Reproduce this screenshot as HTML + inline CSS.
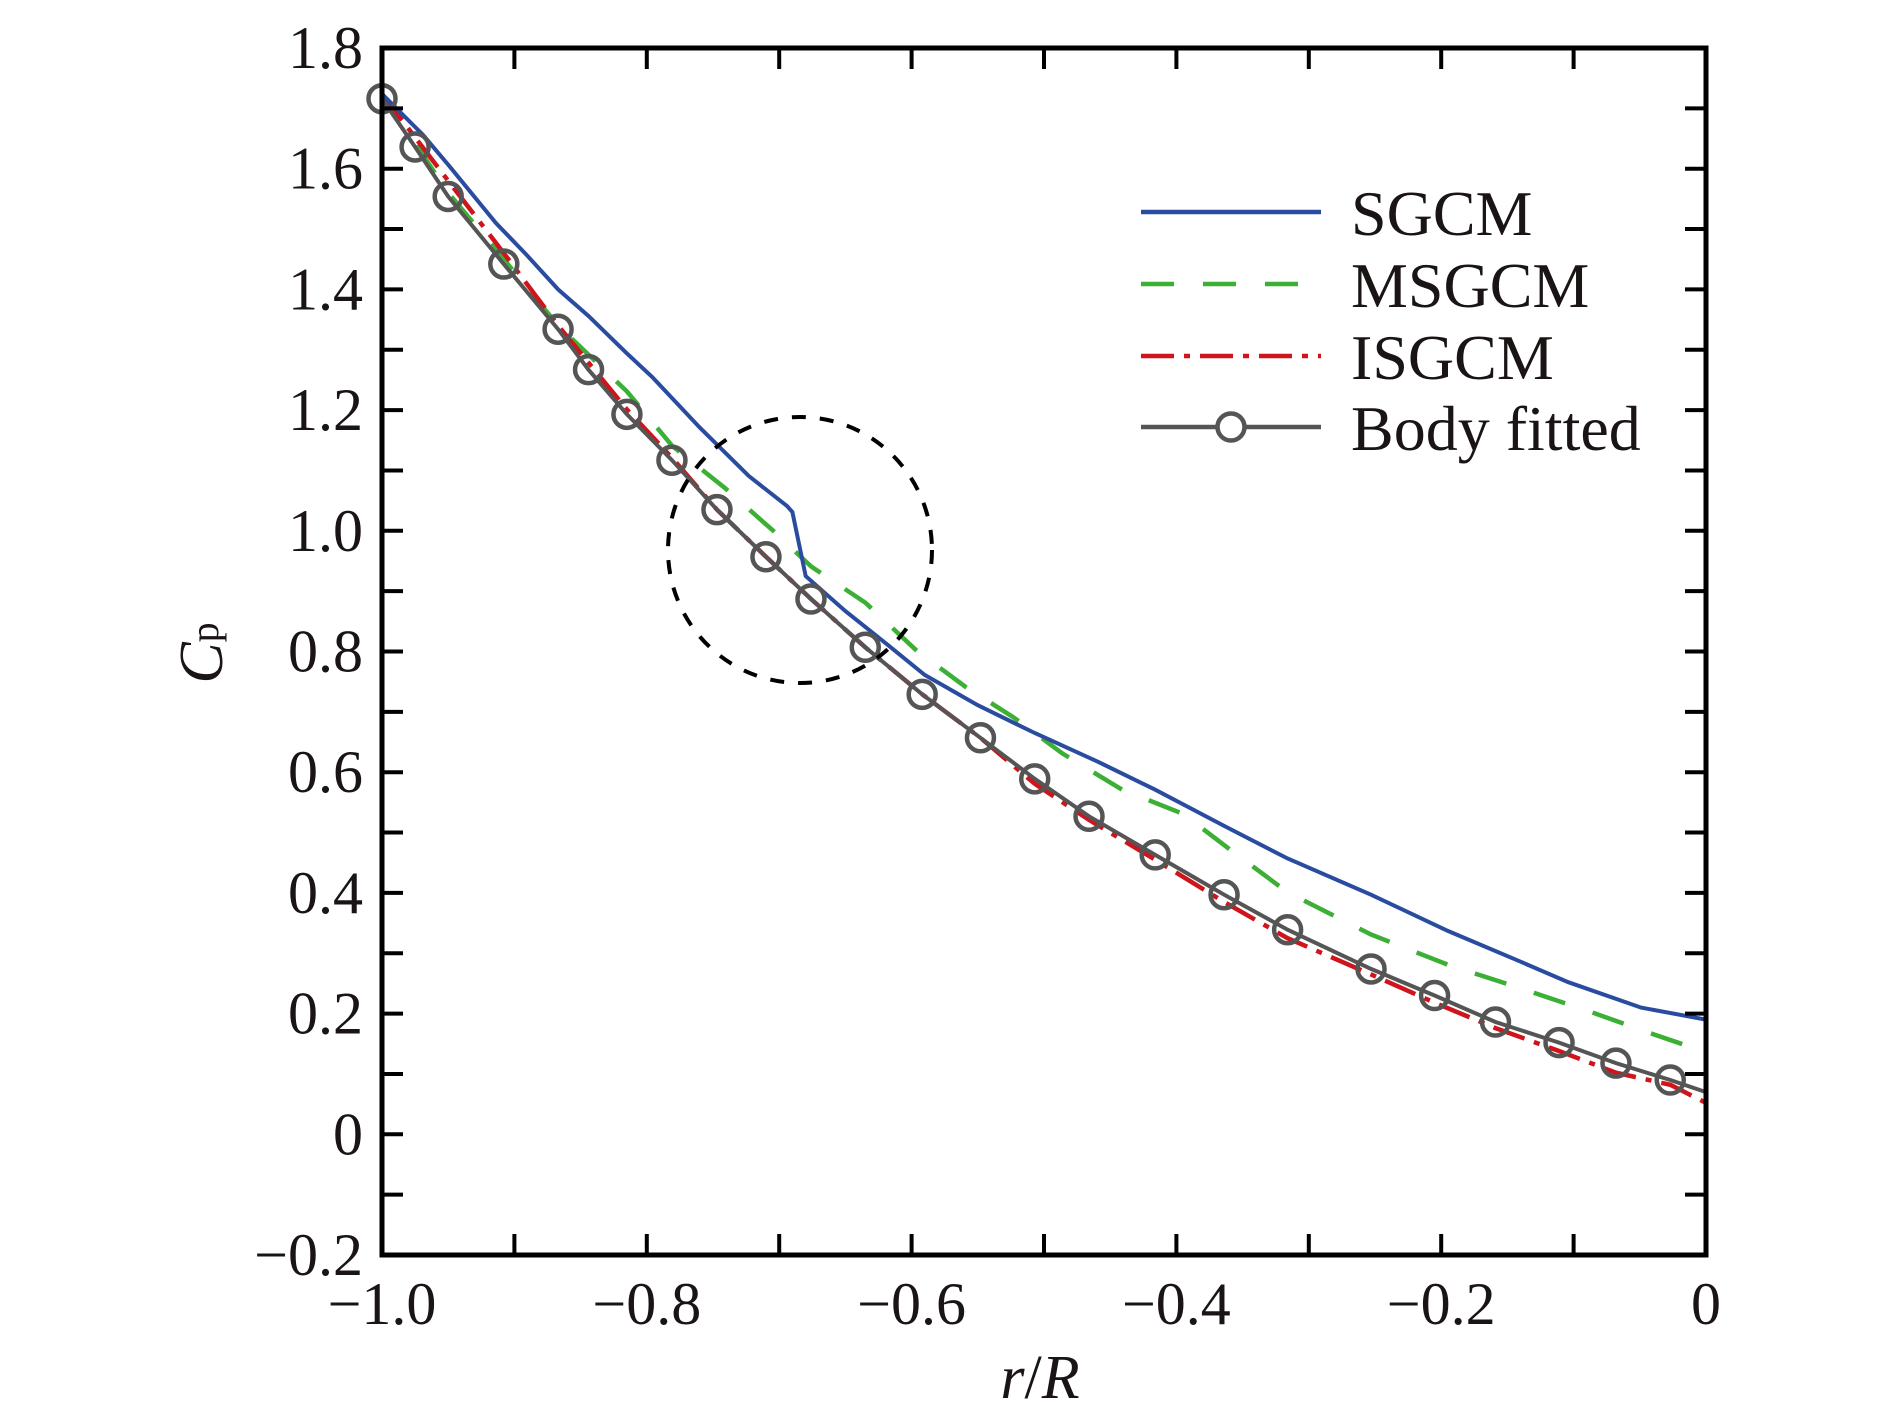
<!DOCTYPE html>
<html><head><meta charset="utf-8"><style>
html,body{margin:0;padding:0;background:#fff;}
svg{display:block;}
text{font-family:"Liberation Serif",serif;fill:#1a1414;}
</style></head><body>
<svg id="chart" width="1890" height="1418" viewBox="0 0 1890 1418" xmlns="http://www.w3.org/2000/svg">
<g id="marks"></g>
<g id="axes"></g>
<g id="legend"></g>
</svg>
<script>
const bodyX=[-1.0,-0.975,-0.950,-0.908,-0.867,-0.844,-0.815,-0.781,-0.747,-0.710,-0.676,-0.635,-0.592,-0.548,-0.507,-0.466,-0.416,-0.364,-0.316,-0.253,-0.205,-0.159,-0.111,-0.068,-0.027,0];
const bodyY=[1.716,1.636,1.554,1.442,1.334,1.267,1.193,1.117,1.035,0.957,0.887,0.807,0.729,0.657,0.589,0.527,0.463,0.397,0.339,0.274,0.230,0.186,0.152,0.118,0.090,0.070];
const bodyMarkerCount=25;
const sgcmX=[-1,-0.969,-0.949,-0.914,-0.892,-0.867,-0.844,-0.815,-0.796,-0.760,-0.723,-0.694,-0.690,-0.680,-0.650,-0.618,-0.590,-0.550,-0.507,-0.459,-0.416,-0.364,-0.316,-0.253,-0.195,-0.140,-0.104,-0.049,0];
const sgcmY=[1.724,1.656,1.604,1.510,1.460,1.400,1.356,1.294,1.255,1.171,1.091,1.041,1.031,0.925,0.867,0.811,0.761,0.711,0.665,0.617,0.571,0.511,0.457,0.397,0.337,0.286,0.252,0.210,0.190];
const msgcmX=[-1,-0.950,-0.908,-0.867,-0.815,-0.781,-0.741,-0.705,-0.676,-0.635,-0.596,-0.559,-0.523,-0.486,-0.441,-0.395,-0.359,-0.316,-0.253,-0.195,-0.140,-0.086,-0.040,0];
const msgcmY=[1.724,1.560,1.450,1.340,1.231,1.141,1.071,1.001,0.941,0.881,0.801,0.741,0.691,0.631,0.571,0.531,0.471,0.401,0.331,0.281,0.242,0.202,0.166,0.136];
const isgcmX=[-1,-0.950,-0.908,-0.867,-0.815,-0.781,-0.747,-0.710,-0.676,-0.635,-0.592,-0.548,-0.507,-0.466,-0.416,-0.364,-0.316,-0.253,-0.205,-0.159,-0.111,-0.068,-0.027,0];
const isgcmY=[1.724,1.580,1.460,1.340,1.201,1.121,1.035,0.957,0.887,0.807,0.729,0.657,0.581,0.521,0.455,0.385,0.325,0.265,0.218,0.176,0.138,0.102,0.082,0.052];
const xTicks=[-1.0,-0.8,-0.6,-0.4,-0.2,0];
const xTickLabels=["\u22121.0","\u22120.8","\u22120.6","\u22120.4","\u22120.2","0"];
const yTicks=[-0.2,0,0.2,0.4,0.6,0.8,1.0,1.2,1.4,1.6,1.8];
const yTickLabels=["\u22120.2","0","0.2","0.4","0.6","0.8","1.0","1.2","1.4","1.6","1.8"];

const L=382,R=1706,T=48,B=1255;
const X0=-1,X1=0,Y0=-0.2,Y1=1.8;
function sx(v){return L+(v-X0)/(X1-X0)*(R-L);}
function sy(v){return B-(v-Y0)/(Y1-Y0)*(B-T);}
const NS="http://www.w3.org/2000/svg";
function mk(tag,attrs,parent){const e=document.createElementNS(NS,tag);for(const k in attrs)e.setAttribute(k,attrs[k]);parent.appendChild(e);return e;}
const marks=document.getElementById('marks'),axes=document.getElementById('axes'),legend=document.getElementById('legend');
function pts(xs,ys){return xs.map((x,i)=>sx(x).toFixed(1)+","+sy(ys[i]).toFixed(1)).join(" ");}

let p;
p=mk('polyline',{points:pts(msgcmX,msgcmY),fill:'none',stroke:'#3cb034','stroke-width':4.5,'stroke-dasharray':'33 29'},marks);


p=mk('polyline',{points:pts(isgcmX,isgcmY),fill:'none',stroke:'#d0141c','stroke-width':4.5,'stroke-dasharray':'33 10 6 10'},marks);


p=mk('polyline',{points:pts(sgcmX,sgcmY),fill:'none',stroke:'#2a4ca0','stroke-width':4},marks);


p=mk('polyline',{points:pts(bodyX,bodyY),fill:'none',stroke:'#555','stroke-width':4},marks);


for(let i=0;i<bodyMarkerCount;i++){
  const c=mk('circle',{cx:sx(bodyX[i]),cy:sy(bodyY[i]),r:13.5,fill:'none',stroke:'#555','stroke-width':4.5},marks);
  
  
}
p=mk('ellipse',{cx:800,cy:550,rx:132,ry:133,fill:'none',stroke:'#000','stroke-width':4,'stroke-dasharray':'14 14'},marks);



p=mk('rect',{x:L,y:T,width:R-L,height:B-T,fill:'none',stroke:'#000','stroke-width':5},axes);


const tl=21;
for(let v=-1.0;v<=0.0001;v+=0.1){
  const x=sx(v);
  mk('line',{x1:x,y1:B,x2:x,y2:B-tl,stroke:'#000','stroke-width':4},axes);
  mk('line',{x1:x,y1:T,x2:x,y2:T+tl,stroke:'#000','stroke-width':4},axes);
}
for(let v=-0.2;v<=1.8001;v+=0.1){
  const y=sy(v);
  mk('line',{x1:L,y1:y,x2:L+tl,y2:y,stroke:'#000','stroke-width':4},axes);
  mk('line',{x1:R,y1:y,x2:R-tl,y2:y,stroke:'#000','stroke-width':4},axes);
}
xTicks.forEach((v,i)=>{
  const t=mk('text',{x:sx(v),y:1324,'font-size':60,'text-anchor':'middle'},axes);
  t.textContent=xTickLabels[i];
  
  
});
yTicks.forEach((v,i)=>{
  const t=mk('text',{x:363,y:sy(v)+20,'font-size':60,'text-anchor':'end'},axes);
  t.textContent=yTickLabels[i];
  
  
});
let t=mk('text',{x:1040,y:1398,'font-size':62,'text-anchor':'middle'},axes);
t.innerHTML='<tspan font-style="italic">r</tspan>/<tspan font-style="italic">R</tspan>';


t=mk('text',{x:0,y:0,'font-size':62,transform:'translate(222,653) rotate(-90)','text-anchor':'middle'},axes);
t.innerHTML='<tspan font-style="italic">C</tspan><tspan font-size="40" dy="-4">p</tspan>';



const rows=[212,284,356,427];
const names=["SGCM","MSGCM","ISGCM","Body fitted"];
const styles=[{stroke:'#2a4ca0',d:''},{stroke:'#3cb034',d:'33 29'},{stroke:'#d0141c',d:'33 10 6 10'},{stroke:'#555',d:''}];
rows.forEach((y,i)=>{
  const g=mk('g',{},legend);
  
  
  const a={x1:1141,y1:y,x2:1321,y2:y,stroke:styles[i].stroke,'stroke-width':4.5};
  if(styles[i].d)a['stroke-dasharray']=styles[i].d;
  mk('line',a,g);
  if(i===3)mk('circle',{cx:1231,cy:y,r:13.5,fill:'#fff',stroke:'#555','stroke-width':4.5},g);
  const tx=mk('text',{x:1351,y:y+23,'font-size':64},g);
  tx.textContent=names[i];
});
</script>
</body></html>
